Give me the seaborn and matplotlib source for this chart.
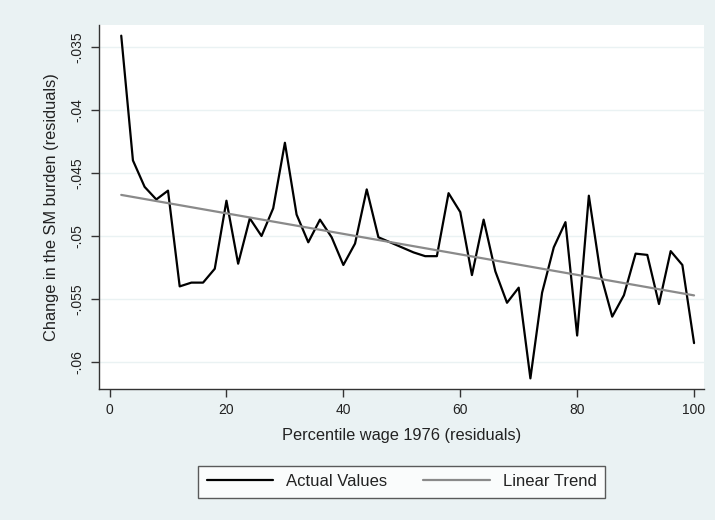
import numpy as np
import pandas as pd
import matplotlib
matplotlib.use("Agg")
import matplotlib.pyplot as plt
import seaborn as sns

percentile = list(range(2, 101, 2))
burden = [-0.0341, -0.0440, -0.0461, -0.0471, -0.0464, -0.0540, -0.0537, -0.0537, -0.0526, -0.0472,
          -0.0522, -0.0486, -0.0500, -0.0478, -0.0426, -0.0483, -0.0505, -0.0487, -0.0501, -0.0523,
          -0.0506, -0.0463, -0.0501, -0.0505, -0.0509, -0.0513, -0.0516, -0.0516, -0.0466, -0.0481,
          -0.0531, -0.0487, -0.0528, -0.0553, -0.0541, -0.0613, -0.0545, -0.0509, -0.0489, -0.0579,
          -0.0468, -0.0530, -0.0564, -0.0547, -0.0514, -0.0515, -0.0554, -0.0512, -0.0523, -0.0585]
yticks = [-0.035, -0.04, -0.045, -0.05, -0.055, -0.06]
ytick_labels = ["-.035", "-.04", "-.045", "-.05", "-.055", "-.06"]
xticks = [0, 20, 40, 60, 80, 100]

df = pd.DataFrame({"x": percentile, "y": burden})

sns.set_style("white")
plt.rcParams['font.family'] = ['Liberation Sans', 'DejaVu Sans']

bg = "#eaf2f3"
fig = plt.figure(figsize=(7.15, 5.2), dpi=100, facecolor=bg)
ax = fig.add_axes([0.1385, 0.252, 0.9846 - 0.1385, 0.952 - 0.252])
ax.set_facecolor("white")

sns.lineplot(data=df, x="x", y="y", ax=ax, color="black", linewidth=1.6, label="Actual Values")
sns.regplot(data=df, x="x", y="y", ax=ax, scatter=False, ci=None, truncate=True,
            line_kws=dict(color="#8a8a8a", linewidth=1.6), label="Linear Trend")

ax.set_xlim(-1.8, 101.7)
ax.set_ylim(-0.06214, -0.03325)
ax.set_yticks(yticks)
ax.set_yticklabels(ytick_labels, rotation=90, va="center")
ax.set_xticks(xticks)
ax.tick_params(axis="both", direction="out", length=5.8, width=1, color="#333333",
               labelsize=10, labelcolor="#222222", left=True, bottom=True, pad=4.5)
ax.yaxis.grid(True, color=bg, linewidth=1)
ax.xaxis.grid(False)
for s in ["top", "right"]:
    ax.spines[s].set_visible(False)
for s in ["left", "bottom"]:
    ax.spines[s].set_color("#333333")
    ax.spines[s].set_linewidth(1)

ax.set_xlabel("Percentile wage 1976 (residuals)", fontsize=11.8, color="#222222", labelpad=8)
ax.set_ylabel("Change in the SM burden (residuals)", fontsize=11.8, color="#222222", labelpad=8.5)

leg = ax.legend(loc="upper center", bbox_to_anchor=(0.5, -0.2115), ncol=2, frameon=True,
                fontsize=12, handlelength=4.0, handletextpad=0.75, columnspacing=2.2,
                fancybox=False, borderpad=0.5, borderaxespad=0)
leg.get_frame().set_edgecolor("#333333")
leg.get_frame().set_linewidth(1)
leg.get_frame().set_facecolor("white")
for t in leg.get_texts():
    t.set_color("#222222")

fig.savefig("out.png", dpi=100, facecolor=bg)
